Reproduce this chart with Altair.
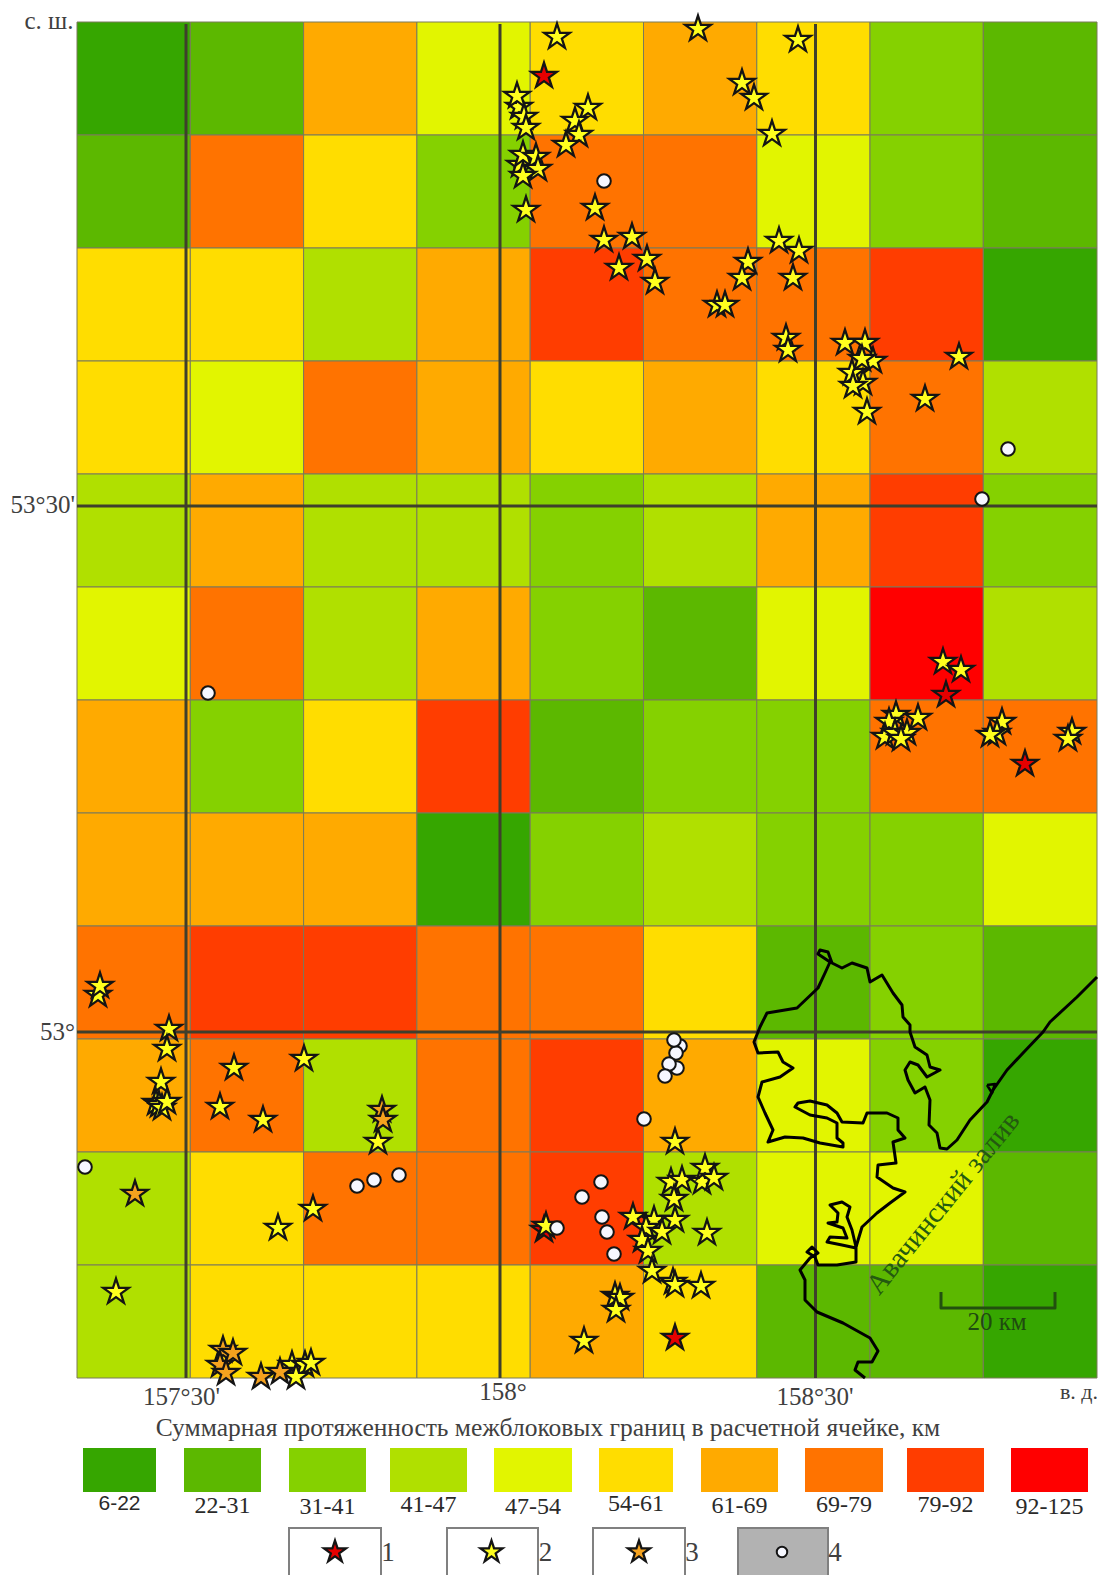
import altair as alt
import pandas as pd

CLASS_LABELS = ["6-22","22-31","31-41","41-47","47-54","54-61","61-69","69-79","79-92","92-125"]
CLASS_COLORS = ["#36a600","#5cb800","#85d100","#b0e000","#e2f500","#ffdd00","#ffaa00","#ff7300","#ff3d00","#ff0000"]

COL_EDGES = [77,190.3,303.6,416.9,530.2,643.5,756.8,870,983.3,1097]
ROW_EDGES = [22,135,248,361,474,587,700,813,926,1039,1152,1265,1378]
GRID = [
 [0,1,6,4,5,6,5,2,1],
 [1,7,5,2,7,7,4,2,1],
 [5,5,3,6,8,7,7,8,0],
 [5,4,7,6,5,6,5,7,3],
 [3,6,3,3,2,3,6,8,2],
 [4,7,3,6,2,1,4,9,3],
 [6,2,5,8,1,2,2,7,7],
 [6,6,6,0,2,3,2,2,4],
 [7,8,8,7,7,5,1,2,1],
 [6,7,3,7,8,6,4,2,0],
 [3,5,7,7,8,3,4,4,1],
 [3,5,5,5,6,5,1,1,0],
]

MERIDIANS = [186,500,815.5]
PARALLELS = [506,1032]

YELLOW_X = [557,698,798,742,754,772,519,517,524,526,588,575,579,566,520,523,536,538,523,526,595,604,632,647,619,655,748,742,779,799,793,717,725,786,788,
            845,865,873,863,852,853,862,867,959,925,943,961,896,889,885,895,907,901,918,1002,997,990,1072,1068,
            671,682,702,705,714,674,675,654,633,646,662,642,648,707,652,673,675,701,546,615,620,616,584,675,
            98,100,169,167,161,156,159,162,167,234,304,220,263,378,278,313,116,292,305,311,296]
YELLOW_Y = [37,29,40,83,98,134,107,96,117,128,108,121,135,145,165,155,157,169,176,210,208,240,237,259,268,282,262,278,241,251,278,305,305,338,350,
            343,343,361,383,373,386,359,412,357,399,662,670,715,722,737,733,733,739,718,722,733,735,732,739,
            1182,1180,1182,1168,1178,1199,1220,1220,1217,1228,1232,1240,1251,1233,1271,1282,1285,1286,1226,1296,1298,1310,1341,1142,
            995,986,1029,1049,1082,1103,1105,1108,1102,1068,1059,1107,1120,1142,1228,1209,1292,1365,1365,1363,1377]
RED_X = [544,946,1025,544,675]
RED_Y = [76,695,764,1230,1338]
ORANGE_X = [382,383,135,223,233,220,226,261,280]
ORANGE_Y = [1110,1120,1194,1350,1353,1365,1373,1377,1372]
WHITE_X = [604,1008,982,208,85,357,374,399,680,677,676,674,669,665,644,601,582,602,607,614,557]
WHITE_Y = [181,449,499,693,1167,1186,1180,1175,1046,1068,1053,1040,1064,1076,1119,1182,1197,1217,1232,1254,1228]

COAST_X = [1097,1077,1050,1043,1023,1007,993,987,970,957,947,940,937,929,930,925,915,908,905,910,918,927,940,930,927,915,910,910,903,902,893,882,870,867,852,842,832,828,820,818,830,825,818,797,767,760,754,758,778,783,793,780,762,758,765,773,768,785,803,820,843,843,837,837,827,810,795,798,810,827,837,842,863,867,887,898,898,905,893,896,878,877,893,905,890,877,862,856,856,837,818,815,807,812,818,810,800,805,805,817,843,870,878,872,858,855,865]
COAST_Y = [977,997,1022,1032,1053,1070,1090,1102,1120,1140,1149,1148,1133,1125,1100,1087,1093,1080,1070,1062,1065,1077,1070,1067,1055,1047,1032,1025,1017,1005,993,975,982,968,963,968,963,952,950,954,962,973,988,1008,1013,1027,1042,1053,1052,1062,1068,1077,1082,1097,1113,1130,1142,1137,1138,1143,1147,1143,1138,1123,1118,1115,1107,1103,1101,1105,1113,1122,1123,1113,1113,1118,1130,1138,1142,1163,1165,1177,1188,1192,1203,1213,1227,1247,1262,1265,1265,1257,1252,1247,1253,1258,1270,1280,1300,1312,1323,1338,1351,1362,1362,1370,1378]
INLET_X = [856,852,847,850,842,830,838,837,828,843,847,830,827,842,856]
INLET_Y = [1247,1230,1217,1207,1202,1205,1213,1222,1223,1228,1238,1237,1242,1245,1248]
CAPE_X = [987,995,992,987]
CAPE_Y = [1085,1084,1093,1085]
SCALE_BAR_X = [941,941,1055,1055]
SCALE_BAR_Y = [1292,1308,1308,1292]

SWATCH_L = [83,184,289,390,494,599,701,805,907,1011]
SWATCH_R = [156,261,366,467,572,673,778,883,984,1088]
SWATCH_LABEL_Y = [1504,1506,1507,1505,1507,1504,1506,1505,1505,1507]

KEY_L = [289,447,593,738]
KEY_R = [381,538,685,828]
KEY_MARK_X = [335,491.5,639,782]
KEY_NUM_X = [388,545.5,692,835]
KEY_NUMS = ["1","2","3","4"]
KEY_FILL = ["#ffffff","#ffffff","#ffffff","#b2b2b2"]

STAR = "M0,-1L.2245,-.309L.951,-.309L.363,.118L.588,.809L0,.382L-.588,.809L-.363,.118L-.951,-.309L-.2245,-.309Z"

PAGE_W = 1091
PAGE_H = 1567
X = alt.X("x:Q", scale=alt.Scale(domain=[8,8+PAGE_W], nice=False, zero=False), axis=None)
Y = alt.Y("y:Q", scale=alt.Scale(domain=[8+PAGE_H,8], nice=False, zero=False), axis=None)
color_scale = alt.Scale(domain=CLASS_LABELS, range=CLASS_COLORS)

cells = pd.DataFrame([
    dict(x=COL_EDGES[c], x2=COL_EDGES[c+1], y=ROW_EDGES[r], y2=ROW_EDGES[r+1], cls=CLASS_LABELS[GRID[r][c]])
    for r in range(len(GRID)) for c in range(len(GRID[0]))])
cell_layer = alt.Chart(cells).mark_rect(stroke="#7a7a5a", strokeWidth=1).encode(
    x=X, x2="x2:Q", y=Y, y2="y2:Q",
    fill=alt.Fill("cls:N", scale=color_scale, legend=None))

def vline(xv):
    d = pd.DataFrame({"x":[xv],"y":[ROW_EDGES[0]+2],"y2":[ROW_EDGES[-1]]})
    return alt.Chart(d).mark_rule(color="#3f3f2c", strokeWidth=3).encode(x=X, y=Y, y2="y2:Q")
def hline(yv):
    d = pd.DataFrame({"x":[COL_EDGES[0]],"x2":[COL_EDGES[-1]],"y":[yv]})
    return alt.Chart(d).mark_rule(color="#3f3f2c", strokeWidth=3).encode(x=X, x2="x2:Q", y=Y)

def path(xs, ys, color="#000000", w=3):
    d = pd.DataFrame({"x":xs,"y":ys,"i":range(len(xs))})
    return alt.Chart(d).mark_line(color=color, strokeWidth=w, strokeJoin="round", interpolate="linear").encode(
        x=X, y=Y, order=alt.Order("i:Q"))

def stars(xs, ys, fill, size=720):
    d = pd.DataFrame({"x":xs,"y":ys})
    return alt.Chart(d).mark_point(shape=STAR, filled=True, fill=fill, stroke="#141414",
                                   strokeWidth=2.3, opacity=1, size=size).encode(x=X, y=Y)
def circles(xs, ys, size=185):
    d = pd.DataFrame({"x":xs,"y":ys})
    return alt.Chart(d).mark_point(shape="circle", filled=True, fill="#f6f7ff", stroke="#141414",
                                   strokeWidth=2, opacity=1, size=size).encode(x=X, y=Y)

def label(t, x, y, size=24, font="Liberation Serif", color="#2a2a2a", align="center", angle=0):
    d = pd.DataFrame({"x":[x],"y":[y],"t":[t]})
    return alt.Chart(d).mark_text(font=font, fontSize=size, color=color, align=align, baseline="middle", angle=angle).encode(
        x=X, y=Y, text="t:N")

layers = [cell_layer] + [vline(v) for v in MERIDIANS] + [hline(v) for v in PARALLELS]
layers += [path(COAST_X, COAST_Y), path(INLET_X, INLET_Y), path(CAPE_X, CAPE_Y, w=2.5),
           path(SCALE_BAR_X, SCALE_BAR_Y, color="#22500f", w=3)]
layers += [stars(RED_X[3:4], RED_Y[3:4], "#e00000")]
layers += [stars(YELLOW_X, YELLOW_Y, "#ffff1e")]
layers += [stars(RED_X[:3]+RED_X[4:], RED_Y[:3]+RED_Y[4:], "#e60000")]
layers += [stars(ORANGE_X, ORANGE_Y, "#f5a21e")]
layers += [circles(WHITE_X, WHITE_Y)]

for t,x,y,a,s in [("с. ш.",49,21,"center",25),("53°30'",75,505,"right",25),("53°",75,1032,"right",25),
              ("157°30'",181.5,1397,"center",25),("158°",503,1392,"center",25),("158°30'",815,1397,"center",25),
              ("в. д.",1079,1392,"center",22)]:
    layers.append(label(t,x,y,size=s,align=a,color="#404040"))
layers.append(label("Суммарная протяженность межблоковых границ в расчетной ячейке, км",548,1428,size=25.5,color="#404040"))
layers.append(label("Авачинский залив",943,1203,size=29,color="#245a10",angle=309))
layers.append(label("20 км",997,1322,size=25,color="#1f4a10"))

swatches = pd.DataFrame({"x":SWATCH_L,"x2":SWATCH_R,"y":[1448]*10,"y2":[1492]*10,"cls":CLASS_LABELS})
layers.append(alt.Chart(swatches).mark_rect().encode(x=X,x2="x2:Q",y=Y,y2="y2:Q",
    fill=alt.Fill("cls:N",scale=color_scale,legend=None)))
for i,t in enumerate(CLASS_LABELS):
    cx=(SWATCH_L[i]+SWATCH_R[i])/2
    if i==0:
        layers.append(label(t,cx,SWATCH_LABEL_Y[i],size=21,font="Liberation Sans"))
    else:
        layers.append(label(t,cx,SWATCH_LABEL_Y[i]))

keys = pd.DataFrame({"x":KEY_L,"x2":KEY_R,"y":[1528]*4,"y2":[1590]*4,"f":KEY_FILL})
layers.append(alt.Chart(keys).mark_rect(stroke="#808080",strokeWidth=2,clip=True).encode(x=X,x2="x2:Q",y=Y,y2="y2:Q",
    fill=alt.Fill("f:N",scale=None)))
layers += [stars(KEY_MARK_X[:1],[1552],"#e60000",size=530),
           stars(KEY_MARK_X[1:2],[1552],"#ffff1e",size=530),
           stars(KEY_MARK_X[2:3],[1552],"#f5a21e",size=530),
           circles(KEY_MARK_X[3:],[1552],size=110)]
for i,t in enumerate(KEY_NUMS):
    layers.append(label(t,KEY_NUM_X[i],1553,size=27,color="#404040"))

chart = alt.layer(*layers).properties(
    width=PAGE_W, height=PAGE_H, padding=0,
    autosize=alt.AutoSizeParams(type="none")
).configure_view(stroke=None)

chart.save("out.html", embed_options={"renderer":"svg","actions":False})
